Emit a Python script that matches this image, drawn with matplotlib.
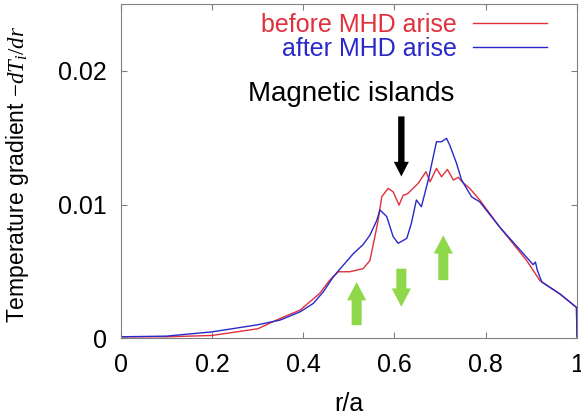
import matplotlib.pyplot as plt

# ---------------- profiles ----------------

r_before = [0, 0.1, 0.2, 0.3, 0.349, 0.393, 0.436, 0.458, 0.477, 0.502, 0.531, 0.546,
            0.557, 0.564, 0.572, 0.586, 0.597, 0.610, 0.619, 0.628, 0.637, 0.652,
            0.669, 0.678, 0.692, 0.703, 0.716, 0.729, 0.740, 0.748, 0.765, 0.787,
            0.831, 0.89, 0.919, 0.963, 0.999, 1.0]
grad_before = [0.0001, 0.0001, 0.0002, 0.0007, 0.00147, 0.0021, 0.00335, 0.00434,
               0.00497, 0.00497, 0.0052, 0.0058, 0.0076, 0.0088, 0.01058, 0.01121,
               0.01096, 0.00996, 0.0107, 0.01079, 0.01109, 0.01159, 0.01246, 0.01171,
               0.01271, 0.01208, 0.01263, 0.01184, 0.01204, 0.01171, 0.01121, 0.01034,
               0.0083, 0.0058, 0.0043, 0.0033, 0.0023, 0.0001]

r_after = [0, 0.1, 0.2, 0.3, 0.349, 0.393, 0.422, 0.444, 0.466, 0.488, 0.509, 0.531,
           0.546, 0.561, 0.568, 0.583, 0.597, 0.608, 0.627, 0.637, 0.648, 0.659, 0.674,
           0.692, 0.703, 0.714, 0.721, 0.736, 0.747, 0.769, 0.787, 0.831, 0.904, 0.909,
           0.913, 0.923, 0.963, 0.999, 1.0]
grad_after = [0.0001, 0.00015, 0.00047, 0.0010, 0.00135, 0.00197, 0.0026, 0.00347,
              0.0046, 0.00547, 0.0063, 0.007, 0.0077, 0.0088, 0.0096, 0.0091, 0.0076,
              0.0071, 0.00747, 0.0086, 0.01034, 0.00984, 0.01184, 0.0147, 0.0147,
              0.01496, 0.01446, 0.01309, 0.01184, 0.01058, 0.0102, 0.0083, 0.0055,
              0.0057, 0.0051, 0.0042, 0.0033, 0.0023, 0.0001]

x_ticks = [0, 0.2, 0.4, 0.6, 0.8, 1]
x_labels = ["0", "0.2", "0.4", "0.6", "0.8", "1"]
y_ticks = [0, 0.01, 0.02]
y_labels = ["0", "0.01", "0.02"]

# green arrows: (r, tail, tip)
change_arrows = [(0.517, 0.00097, 0.0042), (0.615, 0.0052, 0.00235), (0.707, 0.00434, 0.0077)]

plt.rcParams["font.family"] = ["Liberation Sans", "DejaVu Sans"]
plt.rcParams["mathtext.fontset"] = "custom"
plt.rcParams["mathtext.it"] = "Liberation Serif:italic"
plt.rcParams["mathtext.rm"] = "Liberation Serif"

fig = plt.figure(figsize=(5.81, 4.19), dpi=100)
ax = fig.add_axes([0.208, 0.193, 0.785, 0.797])

ax.plot(r_before, grad_before, color="#e0303c", lw=1.0, label="before MHD arise")
ax.plot(r_after, grad_after, color="#2828c8", lw=1.0, label="after MHD arise")

for x, y0, y1 in change_arrows:
    ax.arrow(x, y0, 0, y1 - y0, width=0.022, head_width=0.042, head_length=0.00137,
             length_includes_head=True, color="#8ed84a", lw=0)

# black arrow pointing at the islands
ax.arrow(0.615, 0.0166, 0, 0.0121 - 0.0166, width=0.014, head_width=0.033,
         head_length=0.0011, length_includes_head=True, color="black", lw=0)
ax.text(0.506, 0.0183, "Magnetic islands", ha="center", va="center", fontsize=20)

ax.set_xlim(0, 1)
ax.set_ylim(0, 0.025)
ax.set_xticks(x_ticks, x_labels)
ax.set_yticks(y_ticks, y_labels)
ax.tick_params(direction="in", top=True, right=True, length=4, color="#808080",
               labelsize=18)
ax.tick_params(axis="x", pad=11)
ax.tick_params(axis="y", pad=10)
for s in ax.spines.values():
    s.set_color("#808080")

ax.set_xlabel("r/a", fontsize=18)
ax.set_ylabel(r"Temperature gradient $-dT_i/dr$", fontsize=16.5)
ax.xaxis.set_label_coords(0.5, -0.16)
ax.yaxis.set_label_coords(-0.197, 0.49)

ax.legend(loc="upper right", bbox_to_anchor=(0.934, 0.975), frameon=False, markerfirst=False,
          labelcolor="linecolor", fontsize=18, handlelength=2.96, handletextpad=0.64,
          labelspacing=0.0, borderpad=0, borderaxespad=0)

fig.savefig("out.png", dpi=100)
